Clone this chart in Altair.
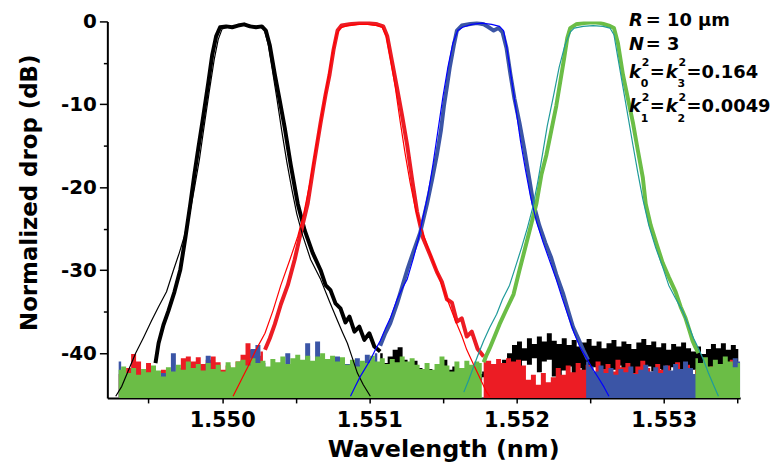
import altair as alt
import pandas as pd
import numpy as np

# ---------------- axes ----------------
X_DOMAIN = [1.54922, 1.55352]
Y_DOMAIN = [-45.4, 0]
X_TICKS = [1.5495, 1.5500, 1.5505, 1.5510, 1.5515, 1.5520, 1.5525, 1.5530, 1.5535]
Y_TICKS = [-40, -35, -30, -25, -20, -15, -10, -5, 0]

# ---------------- measured drop responses (thick) : (wavelength nm, dB) ----------------
BLACK_MEAS = [
    (1.549547, -41.2), (1.549568, -38.8), (1.549601, -36.6), (1.549635, -34.9), (1.549676, -32.6),
    (1.549716, -29.9), (1.549750, -26.1), (1.549784, -22.0), (1.549811, -18.5), (1.549838, -15.3),
    (1.549872, -11.4), (1.549905, -7.5), (1.549932, -4.1), (1.549959, -1.8), (1.549986, -0.7),
    (1.550027, -0.6), (1.550068, -0.7), (1.550108, -0.5), (1.550149, -0.35), (1.550189, -0.6),
    (1.550230, -0.7), (1.550270, -0.6), (1.550297, -1.1), (1.550324, -2.9), (1.550358, -6.4),
    (1.550392, -9.6), (1.550426, -12.9), (1.550466, -17.3), (1.550514, -22.0), (1.550561, -25.2),
    (1.550615, -27.9), (1.550669, -30.0), (1.550703, -31.8), (1.550736, -32.4), (1.550770, -34.0),
    (1.550804, -34.6), (1.550838, -36.3), (1.550865, -35.6), (1.550899, -37.4), (1.550932, -36.8),
    (1.550966, -38.4), (1.551000, -37.6), (1.551034, -39.2), (1.551074, -39.8),
]
RED_MEAS = [
    (1.550291, -39.6), (1.550324, -38.2), (1.550358, -36.5), (1.550399, -34.1), (1.550446, -31.8),
    (1.550493, -28.7), (1.550534, -25.5), (1.550581, -22.0), (1.550622, -17.3), (1.550669, -12.2),
    (1.550703, -8.8), (1.550730, -6.4), (1.550757, -3.4), (1.550784, -1.1), (1.550811, -0.5),
    (1.550865, -0.35), (1.550932, -0.2), (1.551000, -0.2), (1.551054, -0.35), (1.551095, -0.6),
    (1.551122, -1.8), (1.551155, -4.9), (1.551189, -8.1), (1.551223, -11.4), (1.551257, -14.9),
    (1.551291, -19.1), (1.551324, -22.9), (1.551365, -26.1), (1.551412, -28.1), (1.551459, -30.2),
    (1.551493, -31.4), (1.551527, -33.5), (1.551561, -33.9), (1.551595, -36.2), (1.551628, -35.8),
    (1.551662, -38.0), (1.551696, -37.4), (1.551736, -39.5), (1.551777, -40.4),
]
BLUE_MEAS = [
    (1.551074, -39.1), (1.551108, -37.6), (1.551142, -36.4), (1.551189, -34.0), (1.551223, -32.0),
    (1.551257, -30.0), (1.551297, -27.9), (1.551345, -25.5), (1.551392, -22.0), (1.551426, -19.1),
    (1.551459, -16.1), (1.551486, -13.2), (1.551507, -10.2), (1.551527, -7.9), (1.551547, -5.5),
    (1.551574, -2.9), (1.551595, -1.1), (1.551628, -0.5), (1.551676, -0.35), (1.551730, -0.2),
    (1.551777, -0.35), (1.551811, -0.7), (1.551845, -1.1), (1.551878, -0.8), (1.551905, -1.3),
    (1.551932, -3.2), (1.551959, -6.4), (1.551986, -9.3), (1.552020, -12.2), (1.552054, -15.5),
    (1.552088, -19.1), (1.552115, -22.0), (1.552155, -24.6), (1.552196, -26.7), (1.552236, -28.5),
    (1.552270, -30.5), (1.552318, -32.9), (1.552351, -34.9), (1.552385, -36.9), (1.552419, -38.2),
    (1.552453, -39.6), (1.552486, -40.8),
]
GREEN_MEAS = [
    (1.551777, -41.1), (1.551797, -40.2), (1.551818, -39.4), (1.551851, -38.0), (1.551885, -36.5),
    (1.551932, -34.7), (1.551980, -32.9), (1.552020, -30.0), (1.552068, -26.7), (1.552101, -24.4),
    (1.552135, -22.0), (1.552169, -18.5), (1.552203, -16.1), (1.552236, -13.2), (1.552270, -10.2),
    (1.552297, -7.3), (1.552324, -4.4), (1.552345, -2.0), (1.552365, -0.8), (1.552405, -0.35),
    (1.552459, -0.2), (1.552520, -0.1), (1.552574, -0.2), (1.552628, -0.5), (1.552662, -0.8),
    (1.552689, -2.6), (1.552723, -6.4), (1.552757, -9.3), (1.552791, -12.2), (1.552824, -15.5),
    (1.552858, -18.8), (1.552878, -22.0), (1.552912, -24.6), (1.552953, -26.9), (1.552993, -29.1),
    (1.553034, -30.8), (1.553081, -32.6), (1.553115, -34.4), (1.553149, -35.8), (1.553176, -37.3),
    (1.553196, -38.5), (1.553216, -39.3), (1.553236, -40.0),
]

# ---------------- theoretical responses (thin) ----------------
BLACK_THEO = [
    (1.549277, -45.2), (1.549318, -44.0), (1.549365, -42.0), (1.549412, -40.0), (1.549466, -38.1),
    (1.549520, -36.1), (1.549568, -34.4), (1.549622, -32.6), (1.549669, -30.0), (1.549709, -27.9),
    (1.549743, -25.9), (1.549777, -23.4), (1.549811, -20.2), (1.549845, -16.7), (1.549878, -12.6),
    (1.549912, -8.5), (1.549946, -4.6), (1.549973, -2.2), (1.550000, -0.9), (1.550041, -0.7),
    (1.550095, -0.5), (1.550149, -0.35), (1.550203, -0.5), (1.550257, -0.7), (1.550284, -0.9),
    (1.550311, -2.6), (1.550338, -5.5), (1.550372, -9.3), (1.550405, -13.2), (1.550439, -16.9),
    (1.550473, -20.2), (1.550507, -23.2), (1.550547, -25.8), (1.550601, -28.7), (1.550669, -31.1),
    (1.550730, -33.8), (1.550784, -36.1), (1.550818, -37.5), (1.550851, -38.8), (1.550885, -40.6),
    (1.550919, -42.4), (1.550959, -43.8), (1.551007, -45.2),
]
RED_THEO = [
    (1.550074, -45.2), (1.550122, -43.5), (1.550176, -41.6), (1.550230, -39.6), (1.550291, -37.6),
    (1.550345, -34.9), (1.550399, -31.8), (1.550459, -28.8), (1.550514, -25.9), (1.550554, -23.2),
    (1.550595, -19.6), (1.550635, -15.5), (1.550676, -11.4), (1.550716, -7.3), (1.550750, -3.8),
    (1.550777, -1.6), (1.550804, -0.8), (1.550851, -0.5), (1.550919, -0.35), (1.550986, -0.35),
    (1.551054, -0.5), (1.551088, -0.7), (1.551115, -1.8), (1.551142, -4.4), (1.551176, -7.9),
    (1.551209, -12.0), (1.551243, -15.9), (1.551277, -19.4), (1.551311, -22.4), (1.551351, -24.9),
    (1.551399, -27.3), (1.551459, -30.2), (1.551527, -33.4), (1.551581, -35.9), (1.551628, -37.9),
    (1.551662, -39.6), (1.551709, -41.4), (1.551757, -43.2), (1.551797, -44.7), (1.551818, -45.2),
]
BLUE_THEO = [
    (1.550872, -45.2), (1.550905, -44.0), (1.550939, -42.8), (1.550973, -41.8), (1.551007, -40.8),
    (1.551041, -39.6), (1.551074, -38.5), (1.551108, -37.1), (1.551142, -35.8), (1.551189, -33.5),
    (1.551223, -32.2), (1.551257, -31.1), (1.551297, -28.7), (1.551331, -26.4), (1.551365, -23.6),
    (1.551399, -20.8), (1.551432, -17.3), (1.551466, -13.2), (1.551500, -9.1), (1.551534, -5.5),
    (1.551568, -2.6), (1.551601, -1.1), (1.551635, -0.7), (1.551696, -0.35), (1.551764, -0.2),
    (1.551831, -0.35), (1.551885, -0.6), (1.551912, -1.1), (1.551932, -2.9), (1.551959, -6.1),
    (1.551993, -10.2), (1.552027, -14.4), (1.552061, -17.9), (1.552095, -21.1), (1.552135, -24.1),
    (1.552182, -26.7), (1.552230, -29.1), (1.552270, -31.1), (1.552311, -33.4), (1.552351, -35.5),
    (1.552392, -37.6), (1.552432, -39.3), (1.552473, -40.5), (1.552514, -41.8), (1.552554, -42.9),
    (1.552595, -44.1), (1.552628, -45.2),
]
GREEN_THEO = [
    (1.551642, -44.7), (1.551676, -43.2), (1.551709, -41.6), (1.551743, -40.0), (1.551777, -38.5),
    (1.551818, -36.9), (1.551865, -35.3), (1.551905, -33.5), (1.551953, -31.8), (1.551993, -29.6),
    (1.552034, -27.3), (1.552074, -24.9), (1.552108, -22.6), (1.552142, -19.6), (1.552176, -16.1),
    (1.552209, -12.6), (1.552250, -9.1), (1.552290, -5.5), (1.552330, -2.8), (1.552365, -1.3),
    (1.552392, -0.8), (1.552453, -0.6), (1.552520, -0.5), (1.552588, -0.6), (1.552635, -0.8),
    (1.552662, -1.6), (1.552689, -4.4), (1.552723, -7.9), (1.552757, -11.4), (1.552791, -14.9),
    (1.552824, -18.2), (1.552858, -21.4), (1.552899, -24.6), (1.552946, -27.3), (1.552993, -29.6),
    (1.553034, -31.8), (1.553081, -33.4), (1.553128, -34.9), (1.553169, -36.7), (1.553203, -38.2),
    (1.553236, -39.4), (1.553270, -40.8), (1.553304, -42.4), (1.553338, -43.8), (1.553372, -45.2),
]

# ---------------- noise floor (sampled uniformly over each span) ----------------
GREEN_NOISE_L_SPAN = (1.549297, 1.551764)
GREEN_NOISE_L = [
    -42.0, -41.6, -42.4, -41.8, -42.6, -41.9, -42.3, -41.5, -42.1, -42.8, -41.7, -42.2, -41.4, -42.0,
    -41.0, -41.8, -41.3, -42.1, -41.2, -41.9, -41.4, -42.2, -41.1, -41.7, -41.0, -40.8, -41.5, -40.6,
    -41.2, -40.9, -41.6, -40.7, -41.1, -40.4, -41.3, -40.6, -40.2, -40.8, -40.3, -40.9, -40.4, -40.0,
    -40.7, -40.3, -41.0, -40.5, -41.4, -40.8, -41.6, -40.9, -41.2, -40.3, -41.0, -40.6, -41.3, -40.7,
    -41.1, -40.4, -41.0, -40.6, -41.4, -41.9, -41.2, -42.0, -41.3, -40.4, -41.5, -42.2, -41.0, -41.8,
    -40.9, -41.4, -41.0, -41.2,
]
GREEN_NOISE_R_SPAN = (1.553216, 1.553520)
GREEN_NOISE_R = [-40.6, -41.2, -40.5, -41.6, -40.8, -41.3, -40.4, -41.0, -41.7, -41.2]

RED_NOISE_L_SPAN = (1.549297, 1.550277)
RED_NOISE_L = [
    -42.5, -43.0, -41.8, -40.1, -41.0, -42.2, -41.2, -42.8, -43.1, -42.0, -42.6, -43.0, -41.8, -40.6,
    -40.4, -41.0, -40.5, -41.3, -40.8, -40.4, -41.1, -42.0, -41.5, -42.3, -41.0, -40.2, -38.8, -39.6,
    -40.3, -39.8,
]
RED_NOISE_R_SPAN = (1.551777, 1.553500)
RED_NOISE_R = [
    -40.4, -40.9, -41.3, -40.7, -41.2, -40.6, -41.0, -40.8, -41.5, -43.2, -42.6, -43.8, -42.4, -43.5,
    -42.9, -41.8, -42.6, -41.5, -42.3, -41.2, -42.0, -41.4, -42.5, -41.0, -41.9, -41.3, -42.2, -40.8,
    -41.7, -41.2, -42.4, -41.6, -40.9, -41.8, -42.5, -41.3, -42.0, -41.5, -42.3, -41.1, -41.9, -41.4,
    -42.6, -42.0, -42.8, -42.2, -41.6, -42.4, -41.8, -42.5, -40.8, -41.2,
]

BLUE_NOISE_L_SPAN = (1.549297, 1.551054)
BLUE_NOISE_L = [
    -41.0, -42.5, -43.0, -42.0, -43.5, -42.8, -43.2, -42.0, -43.0, -42.4, -43.3, -40.0, -42.6, -43.1,
    -42.2, -43.4, -42.5, -43.0, -40.3, -42.7, -43.2, -42.4, -43.0, -42.1, -42.8, -43.3, -41.5, -39.5,
    -39.0, -41.2, -42.5, -42.0, -42.8, -41.8, -40.0, -42.4, -41.6, -42.2, -38.8, -41.5, -38.6, -41.9,
    -42.5, -41.7, -40.4, -42.2, -41.3, -42.0, -40.6, -41.4, -40.2, -40.8, -40.0,
]
BLUE_NOISE_R_SPAN = (1.552473, 1.553520)
BLUE_NOISE_R = [
    -41.0, -41.6, -42.2, -41.5, -42.4, -41.8, -42.6, -41.9, -42.3, -41.6, -42.5, -42.0, -41.4, -42.2,
    -41.7, -42.4, -41.5, -42.1, -41.3, -41.9, -41.0, -41.8, -42.5, -42.0, -42.6, -42.2, -41.9, -42.4,
    -42.0, -41.5, -40.6, -41.0,
]

BLACK_NOISE_SPAN = (1.551074, 1.553507)
BLACK_NOISE_TOP = [
    -40.0, -41.2, -40.4, -39.6, -39.3, -40.8, -41.5, -40.9, -41.8, -42.3, -41.9, -42.4, -41.8, -40.8,
    -42.0, -41.6, -42.4, -42.0, -42.6, -42.1, -42.5, -42.2, -41.8, -42.0, -41.5, -40.8, -40.0, -39.0,
    -38.6, -39.4, -38.2, -38.9, -38.0, -38.6, -37.6, -38.5, -38.9, -38.2, -39.0, -38.4, -39.2, -38.7,
    -38.3, -39.1, -38.6, -39.4, -38.8, -38.4, -39.2, -38.6, -38.9, -39.5, -38.7, -38.3, -39.0, -38.6,
    -39.3, -38.8, -39.6, -38.9, -39.2, -38.7, -39.4, -39.8, -39.2, -40.1, -39.5, -38.9, -39.4, -38.8,
    -39.6, -39.0, -39.5,
]
BLACK_NOISE_BOT = [
    -42.5, -43.0, -42.2, -42.8, -43.4, -42.6, -43.1, -42.7, -43.3, -42.9, -43.5, -43.0, -42.6, -43.2,
    -42.8, -43.4, -43.0, -43.6, -43.1, -42.7, -43.3, -42.9, -43.5, -43.0, -42.6, -43.1, -42.4, -41.8,
    -42.6, -40.9, -41.4, -40.6, -42.3, -41.0, -40.8, -42.8, -43.4, -42.1, -41.6, -42.4, -41.8, -42.9,
    -42.2, -41.7, -42.5, -41.9, -42.7, -42.0, -41.5, -42.3, -41.8, -42.6, -41.9, -42.4, -41.6, -42.2,
    -41.9, -42.8, -42.1, -41.7, -42.4, -41.9, -42.6, -42.0, -41.7, -42.3, -41.8, -42.5, -42.0, -41.6,
    -42.2, -41.9, -42.4,
]

# ---------------- colours ----------------
C_BLACK = "#000000"
C_RED = "#ec1c24"
C_BLUE = "#3b55a6"
C_GREEN = "#6bbd46"
C_RED_T = "#ff0000"
C_BLUE_T = "#0000ff"
C_GREEN_T = "#1f9a9a"

FONT = "DejaVu Sans"

x_axis = alt.Axis(
    values=X_TICKS,
    labelExpr="abs(datum.value*1000 - round(datum.value*1000)) < 0.01 ? format(datum.value, '.3f') : ''",
    tickSize=5, tickWidth=1.5, tickColor="black",
    domainColor="black", domainWidth=2, grid=False,
    labelFont=FONT, labelFontWeight="bold", labelFontSize=21, labelColor="black",
    labelPadding=7, labelOverlap=False, labelFlush=False,
    titleFont=FONT, titleFontWeight="bold", titleFontSize=24, titleColor="black",
    titleX=338, titleY=59, titleBaseline="alphabetic", titleAlign="center", titleAnchor="start",
)
y_axis = alt.Axis(
    values=Y_TICKS,
    labelExpr="datum.value % 10 === 0 ? '' + datum.value : ''",
    tickSize={"condition": {"test": "datum.value % 10 === 0", "value": 8}, "value": 4},
    tickWidth=1.5, tickColor="black",
    domainColor="black", domainWidth=2, grid=False,
    labelFont=FONT, labelFontWeight="bold", labelFontSize=20, labelColor="black",
    labelPadding=3, labelOverlap=False, labelFlush=False,
    titleFont=FONT, titleFontWeight="bold", titleFontSize=23, titleColor="black",
    titleX=-71, titleY=172, titleAngle=-90, titleBaseline="alphabetic", titleAlign="center",
    titleAnchor="start",
)

X = alt.X("wl:Q", scale=alt.Scale(domain=X_DOMAIN, nice=False, zero=False), axis=x_axis,
          title="Wavelength (nm)")
Y = alt.Y("db:Q", scale=alt.Scale(domain=Y_DOMAIN, nice=False, zero=False), axis=y_axis,
          title="Normalized drop (dB)", stack=None)


def pairs_df(pairs):
    return pd.DataFrame(pairs, columns=["wl", "db"])


def noise_df(span, vals, seg="a"):
    return pd.DataFrame({"wl": np.linspace(span[0], span[1], len(vals)), "db": vals,
                         "lo": Y_DOMAIN[0], "seg": seg})


def noise_layer(dfs, color):
    df = pd.concat(dfs, ignore_index=True)
    return alt.Chart(df).mark_area(color=color, interpolate="step", clip=True, opacity=1).encode(
        x=X, y=Y, y2="lo:Q", detail="seg:N")


def line_layer(pairs, color, width):
    return alt.Chart(pairs_df(pairs)).mark_line(
        color=color, strokeWidth=width, clip=True, strokeJoin="round").encode(x=X, y=Y)


black_band_df = pd.DataFrame({
    "wl": np.linspace(BLACK_NOISE_SPAN[0], BLACK_NOISE_SPAN[1], len(BLACK_NOISE_TOP)),
    "db": BLACK_NOISE_TOP, "lo": BLACK_NOISE_BOT, "seg": "b",
})
black_band = noise_layer([black_band_df], C_BLACK)

red_noise = noise_layer([noise_df(RED_NOISE_L_SPAN, RED_NOISE_L, "l"),
                         noise_df(RED_NOISE_R_SPAN, RED_NOISE_R, "r")], C_RED)
blue_noise = noise_layer([noise_df(BLUE_NOISE_L_SPAN, BLUE_NOISE_L, "l"),
                          noise_df(BLUE_NOISE_R_SPAN, BLUE_NOISE_R, "r")], C_BLUE)
green_noise = noise_layer([noise_df(GREEN_NOISE_L_SPAN, GREEN_NOISE_L, "l"),
                           noise_df(GREEN_NOISE_R_SPAN, GREEN_NOISE_R, "r")], C_GREEN)

THICK = 4
THIN = 1.2
layers = [
    black_band, red_noise, blue_noise, green_noise,
    line_layer(BLACK_MEAS, C_BLACK, THICK),
    line_layer(RED_MEAS, C_RED, THICK),
    line_layer(BLUE_MEAS, C_BLUE, THICK),
    line_layer(GREEN_MEAS, C_GREEN, THICK),
    line_layer(BLACK_THEO, C_BLACK, THIN),
    line_layer(RED_THEO, C_RED_T, THIN),
    line_layer(BLUE_THEO, C_BLUE_T, THIN),
    line_layer(GREEN_THEO, C_GREEN_T, THIN),
]

# ---------------- annotation (text pieces: text, x, y, size, italic) ----------------
ANNOT = [
    ("R", 525, 5, 18, True), ("= 10 µm", 542, 5, 18, False),
    ("N", 525, 29, 18, True), ("= 3", 542, 29, 18, False),
    ("k", 525, 57, 18, True), ("2", 538, 45, 11, False), ("0", 537, 66, 11, False),
    ("=", 546, 57, 18, False),
    ("k", 562, 57, 18, True), ("2", 575, 45, 11, False), ("3", 574, 66, 11, False),
    ("=0.164", 583, 57, 18, False),
    ("k", 525, 91, 18, True), ("2", 538, 80, 11, False), ("1", 537, 101, 11, False),
    ("=", 546, 91, 18, False),
    ("k", 562, 91, 18, True), ("2", 575, 80, 11, False), ("2", 574, 101, 11, False),
    ("=0.0049", 583, 91, 18, False),
]
for t, px, py, size, italic in ANNOT:
    layers.append(
        alt.Chart(pd.DataFrame({"t": [t]})).mark_text(
            align="left", baseline="alphabetic", font=FONT, fontSize=size, fontWeight="bold",
            fontStyle="italic" if italic else "normal", color="black",
        ).encode(x=alt.value(px), y=alt.value(py), text="t:N")
    )

chart = alt.layer(*layers).properties(
    width=637, height=379,
    autosize=alt.AutoSizeParams(type="none"),
    padding={"left": 100, "top": 12, "right": 32, "bottom": 70},
    background="white",
).configure_view(stroke=None)

chart.save("out.html", embed_options={"renderer": "svg", "actions": False})
